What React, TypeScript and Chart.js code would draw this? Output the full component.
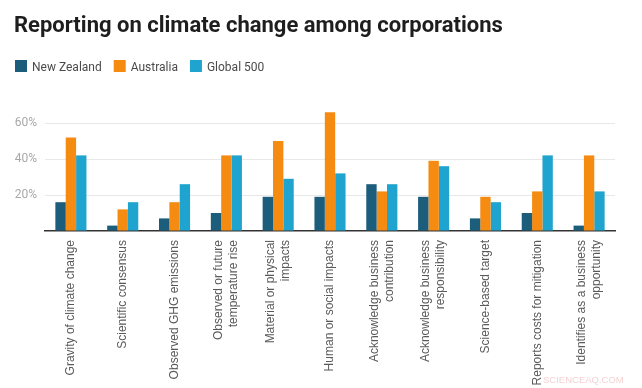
import React, { useEffect, useRef } from 'react';
import { Chart, registerables } from 'chart.js';

Chart.register(...registerables);

const TITLE = 'Reporting on climate change among corporations';
const WATERMARK = 'SCIENCEAQ.COM';

const CATEGORIES: (string | string[])[] = [
  'Gravity of climate change',
  'Scientific consensus',
  'Observed GHG emissions',
  ['Observed or future', 'temperature rise'],
  ['Material or physical', 'impacts'],
  'Human or social impacts',
  ['Acknowledge business', 'contribution'],
  ['Acknowledge business', 'responsibility'],
  'Science-based target',
  'Reports costs for mitigation',
  ['Identifies as a business', 'opportunity'],
];

const SERIES_NAMES = ['New Zealand', 'Australia', 'Global 500'];
const NEW_ZEALAND = [16, 3, 7, 10, 19, 19, 26, 19, 7, 10, 3];
const AUSTRALIA = [52, 12, 16, 42, 50, 66, 22, 39, 19, 22, 42];
const GLOBAL_500 = [42, 16, 26, 42, 29, 32, 26, 36, 16, 42, 22];
const SERIES_COLORS = ['#1b5d7a', '#f68b12', '#1fa3cf'];

const Y_MIN = 0;
const Y_MAX = 70;
const Y_TICKS = [0, 20, 40, 60];

const headerPlugin = {
  id: 'header',
  beforeDraw(chart: any) {
    // center multi-line rotated category labels on their tick
    const xs = chart.scales.x;
    const items = xs.getLabelItems(chart.chartArea);
    if (!(items as any).__centered) {
      items.forEach((it: any) => {
        const n = Array.isArray(it.label) ? it.label.length : 1;
        if (n > 1) it.options.translation[0] -= ((n - 1) * it.font.lineHeight) / 2;
      });
      (items as any).__centered = true;
    }
  },
  afterDraw(chart: any) {
    const ctx = chart.ctx;
    ctx.save();
    // title
    ctx.fillStyle = '#1e1e1e';
    ctx.font = 'bold 22px Roboto';
    ctx.textBaseline = 'alphabetic';
    ctx.textAlign = 'left';
    ctx.fillText(TITLE, 14, 31.5);
    // legend
    ctx.font = '12px Roboto';
    let x = 15;
    chart.data.datasets.forEach((ds: any) => {
      ctx.fillStyle = ds.backgroundColor;
      ctx.fillRect(x, 60, 12, 12);
      x += 17;
      ctx.fillStyle = '#4a4a4a';
      ctx.fillText(ds.label, x, 70.5);
      x += ctx.measureText(ds.label).width + 12;
    });
    // watermark
    ctx.font = '9.5px "Liberation Sans"';
    ctx.fillStyle = 'rgba(236, 150, 150, 0.45)';
    ctx.fillText(WATERMARK, 543, 382.5);
    ctx.restore();
  },
};

export default function App() {
  const canvasRef = useRef<HTMLCanvasElement>(null);

  useEffect(() => {
    const canvas = canvasRef.current;
    if (!canvas) return;
    const values = [NEW_ZEALAND, AUSTRALIA, GLOBAL_500];
    const chart = new Chart(canvas, {
      type: 'bar',
      data: {
        labels: CATEGORIES,
        datasets: SERIES_NAMES.map((name, i) => ({
          label: name,
          data: values[i],
          backgroundColor: SERIES_COLORS[i],
          borderWidth: 0,
          barPercentage: 1,
          categoryPercentage: 0.6,
        })),
      },
      options: {
        responsive: false,
        animation: false,
        devicePixelRatio: 1,
        layout: { padding: { top: 105, right: 27, left: 0, bottom: 0 } },
        plugins: {
          legend: { display: false },
          title: { display: false },
          tooltip: { enabled: false },
        },
        scales: {
          x: {
            grid: { display: false, drawTicks: false },
            border: { display: true, color: '#333333', width: 1.5 },
            ticks: {
              autoSkip: false,
              minRotation: 90,
              maxRotation: 90,
              padding: 9,
              color: '#5a5a5a',
              font: { family: '"Liberation Sans", Arial', size: 12, lineHeight: 1.25 },
            },
            afterFit: (s: any) => {
              s.height = 157;
            },
          },
          y: {
            min: Y_MIN,
            max: Y_MAX,
            afterBuildTicks: (s: any) => {
              s.ticks = Y_TICKS.map((v) => ({ value: v }));
            },
            grid: {
              drawTicks: false,
              color: (c: any) => (c.tick && c.tick.value === 0 ? 'rgba(0,0,0,0)' : '#e8e8e8'),
            },
            border: { display: false },
            ticks: {
              padding: 8,
              color: '#a8a8a8',
              font: { family: 'Roboto', size: 12 },
              callback: (v: any) => (v === 0 ? '' : v + '%'),
            },
            afterFit: (s: any) => {
              s.width = 45;
            },
          },
        },
      },
      plugins: [headerPlugin],
    });
    return () => chart.destroy();
  }, []);

  return (
    <div style={{ position: 'absolute', left: 0, top: 0, width: 642, height: 388, background: '#ffffff' }}>
      <canvas ref={canvasRef} width={642} height={388} style={{ display: 'block' }} />
    </div>
  );
}
